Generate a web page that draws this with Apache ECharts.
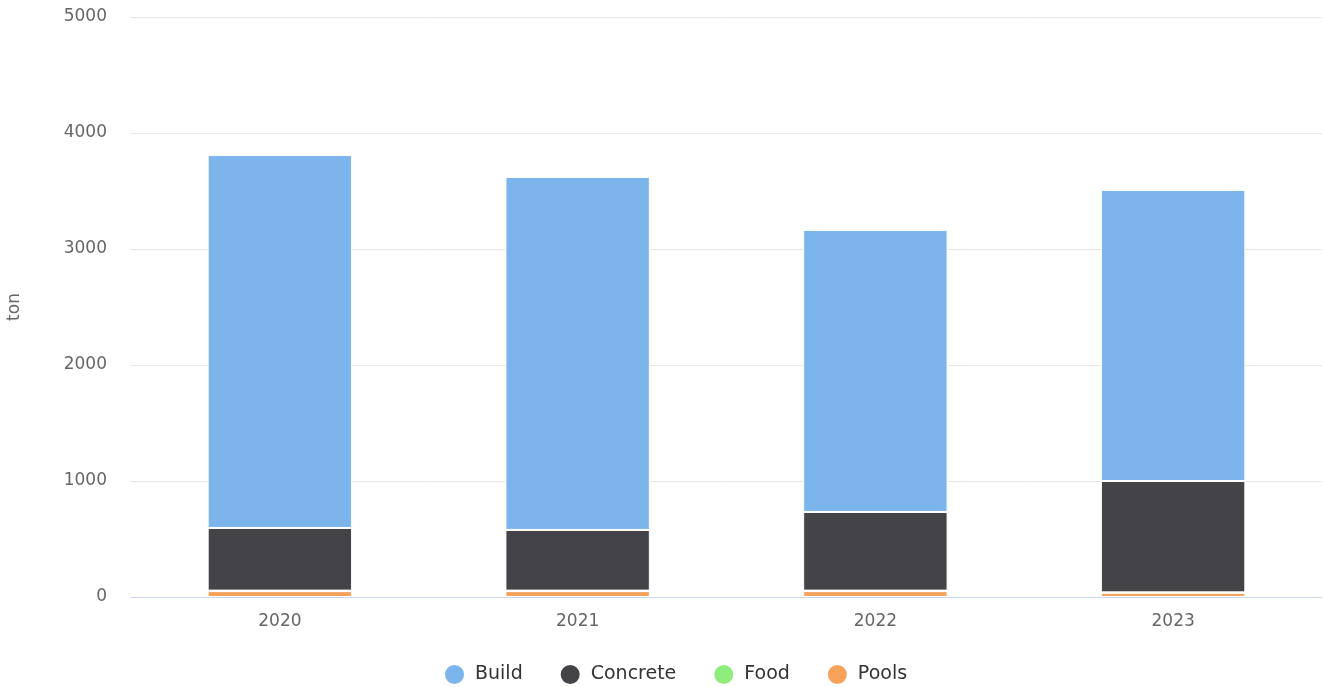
<!DOCTYPE html>
<html>
<head>
<meta charset="utf-8">
<script src="https://cdn.jsdelivr.net/npm/echarts@6/dist/echarts.min.js"></script>
<style>
  html, body { margin: 0; padding: 0; background: #fff; }
  #chart { width: 1323px; height: 687px; }
</style>
</head>
<body>
<div id="chart"></div>
<script>
// Yearly tonnage by material, stacked
const years = ['2020', '2021', '2022', '2023'];
const build = [3215, 3043, 2431, 2509];
const concrete = [540, 523, 678, 960];
const food = [4, 4, 4, 4];
const pools = [51, 51, 51, 36];
const yTicks = [0, 1000, 2000, 3000, 4000, 5000];

const font = "'DejaVu Sans', sans-serif";

function stackSeries(name, data, color) {
  return {
    name: name,
    type: 'bar',
    stack: 'total',
    data: data,
    barWidth: '48.5%',
    itemStyle: { color: color, borderColor: '#ffffff', borderWidth: 1 },
    emphasis: { disabled: true }
  };
}

const chart = echarts.init(document.getElementById('chart'), null, { renderer: 'canvas' });
chart.setOption({
  animation: false,
  textStyle: { fontFamily: font },
  grid: { left: 131, right: 1, top: 17, bottom: 90, containLabel: false, outerBoundsMode: 'none' },
  legend: {
    top: 658,
    left: 438,
    icon: 'circle',
    itemWidth: 21,
    itemHeight: 21,
    itemGap: 36,
    textStyle: { fontFamily: font, fontSize: 19, color: '#333333', padding: [0, 0, 0, 5] },
    data: ['Build', 'Concrete', 'Food', 'Pools']
  },
  xAxis: {
    type: 'category',
    data: years,
    axisLine: { lineStyle: { color: '#ccd6eb', width: 1 } },
    axisTick: { show: false },
    axisLabel: { color: '#666666', fontSize: 17, fontFamily: font, margin: 16 }
  },
  yAxis: {
    type: 'value',
    min: yTicks[0],
    max: yTicks[yTicks.length - 1],
    interval: 1000,
    name: 'ton',
    nameLocation: 'middle',
    nameGap: 108,
    nameTextStyle: { color: '#666666', fontSize: 17, fontFamily: font },
    axisLine: { show: false },
    axisTick: { show: false },
    splitLine: { lineStyle: { color: '#e6e6e6' } },
    axisLabel: {
      color: '#666666', fontSize: 17, fontFamily: font, margin: 24,
      formatter: function (v) { return String(v); }
    }
  },
  series: [
    stackSeries('Pools', pools, '#f7a35c'),
    stackSeries('Food', food, '#90ed7d'),
    stackSeries('Concrete', concrete, '#434348'),
    stackSeries('Build', build, '#7cb5ec')
  ]
});
</script>
</body>
</html>
